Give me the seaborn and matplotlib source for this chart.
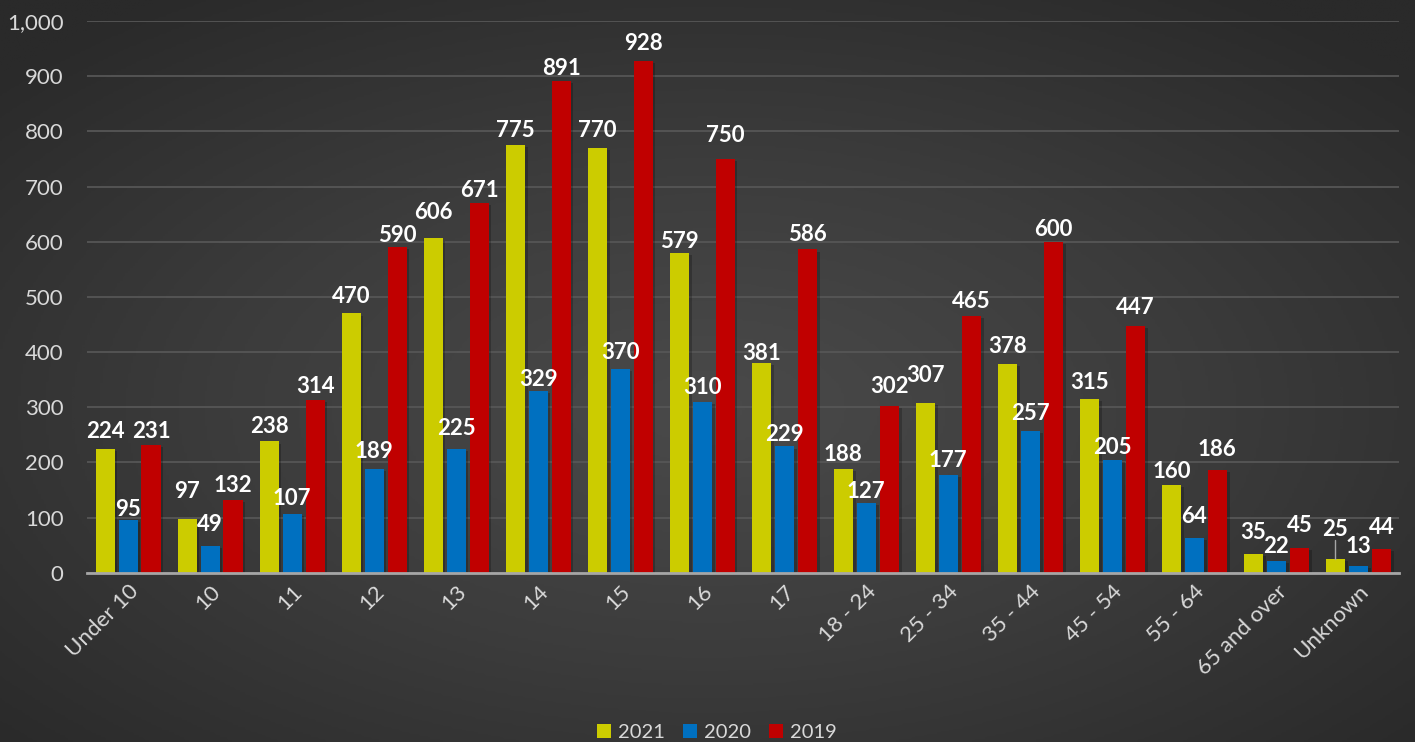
import numpy as np
import pandas as pd
import matplotlib.pyplot as plt
import matplotlib.patheffects as pe
from matplotlib.colors import LinearSegmentedColormap
import seaborn as sns

groups = ['Under 10', '10', '11', '12', '13', '14', '15', '16', '17',
          '18 - 24', '25 - 34', '35 - 44', '45 - 54', '55 - 64', '65 and over', 'Unknown']
years = ['2021', '2020', '2019']
v2021 = [224, 97, 238, 470, 606, 775, 770, 579, 381, 188, 307, 378, 315, 160, 35, 25]
v2020 = [95, 49, 107, 189, 225, 329, 370, 310, 229, 127, 177, 257, 205, 64, 22, 13]
v2019 = [231, 132, 314, 590, 671, 891, 928, 750, 586, 302, 465, 600, 447, 186, 45, 44]
colors = ['#CCCC00', '#0070C0', '#C00000']

# how far each value label sits above its bar (data units), as placed in the original
lift = {
    '2021': [32, 51, 27, 31, 47, 27, 31, 22, 17, 27, 51, 32, 29, 23, 38, 54],
    '2020': [19, 39, 27, 31, 36, 22, 29, 25, 22, 20, 27, 31, 23, 38, 25, 34],
    '2019': [25, 27, 23, 22, 21, 23, 31, 42, 28, 36, 27, 23, 33, 38, 40, 38],
}

df = pd.DataFrame({
    'group': groups * 3,
    'year': [y for y in years for _ in groups],
    'value': v2021 + v2020 + v2019,
})

sns.set_theme(style='dark')
plt.rcParams['font.family'] = ['Lato', 'DejaVu Sans']

fig = plt.figure(figsize=(14.15, 7.42), dpi=100)

# radial dark gradient background
bg = fig.add_axes([0, 0, 1, 1], zorder=-10)
yy, xx = np.mgrid[0:1:300j, 0:1:560j]
r = np.sqrt(((xx - 0.5) / 0.75) ** 2 + ((yy - 0.45) / 0.75) ** 2)
cmap = LinearSegmentedColormap.from_list('bg', ['#4a4a4a', '#3c3c3c', '#2a2a2a'])
bg.imshow(r, cmap=cmap, aspect='auto', extent=[0, 1, 0, 1], origin='lower', vmin=0, vmax=0.9)
bg.axis('off')

ax = fig.add_axes([0.0615, 0.228, 0.9275, 0.7437])
ax.set_facecolor('none')
sns.barplot(data=df, x='group', y='value', hue='year', order=groups, hue_order=years,
            palette=colors, width=0.84, gap=0.17, ax=ax, saturation=1, legend=True,
            linewidth=0, edgecolor='none')

shadow = [pe.SimplePatchShadow(offset=(2, -1.5), shadow_rgbFace='black', alpha=0.22), pe.Normal()]
for cont in ax.containers:
    for bar in cont:
        bar.set_path_effects(shadow)

ax.set_ylim(0, 1000)
ax.set_xlim(-0.5, len(groups) - 0.5)
ax.set_yticks(range(0, 1001, 100))
ax.set_yticklabels([f'{t:,}' for t in range(0, 1001, 100)])
ax.yaxis.grid(True, color='#565656', linewidth=1.3)
ax.set_axisbelow(True)
for s in ['top', 'right', 'left']:
    ax.spines[s].set_visible(False)
ax.spines['bottom'].set_color('#a6a6a6')
ax.spines['bottom'].set_linewidth(2)
ax.set_xlabel('')
ax.set_ylabel('')
ax.tick_params(axis='y', colors='#d9d9d9', labelsize=16, length=0, pad=17)
ax.tick_params(axis='x', colors='#d9d9d9', labelsize=16, length=0, pad=6)
plt.setp(ax.get_xticklabels(), rotation=45, ha='right', rotation_mode='anchor')

# value labels
for year, cont in zip(years, ax.containers):
    for grp, bar, off in zip(groups, cont, lift[year]):
        h = bar.get_height()
        cx = bar.get_x() + bar.get_width() / 2
        ax.text(cx, h + off, f'{int(h)}', ha='center', va='center', color='white',
                fontsize=16, fontweight='bold')
        if (year, grp) == ('2021', 'Unknown'):
            # leader line for the label lifted off its bar
            ax.plot([cx, cx], [h, h + off - 20], color='#a6a6a6', linewidth=1)

leg = ax.legend(loc='center', bbox_to_anchor=(0.48, -0.29), ncol=3, frameon=False,
                fontsize=14.5, handlelength=0.7, handleheight=0.7, handletextpad=0.35,
                columnspacing=0.9)
for t in leg.get_texts():
    t.set_color('#d9d9d9')

fig.savefig('out.png', dpi=100)
